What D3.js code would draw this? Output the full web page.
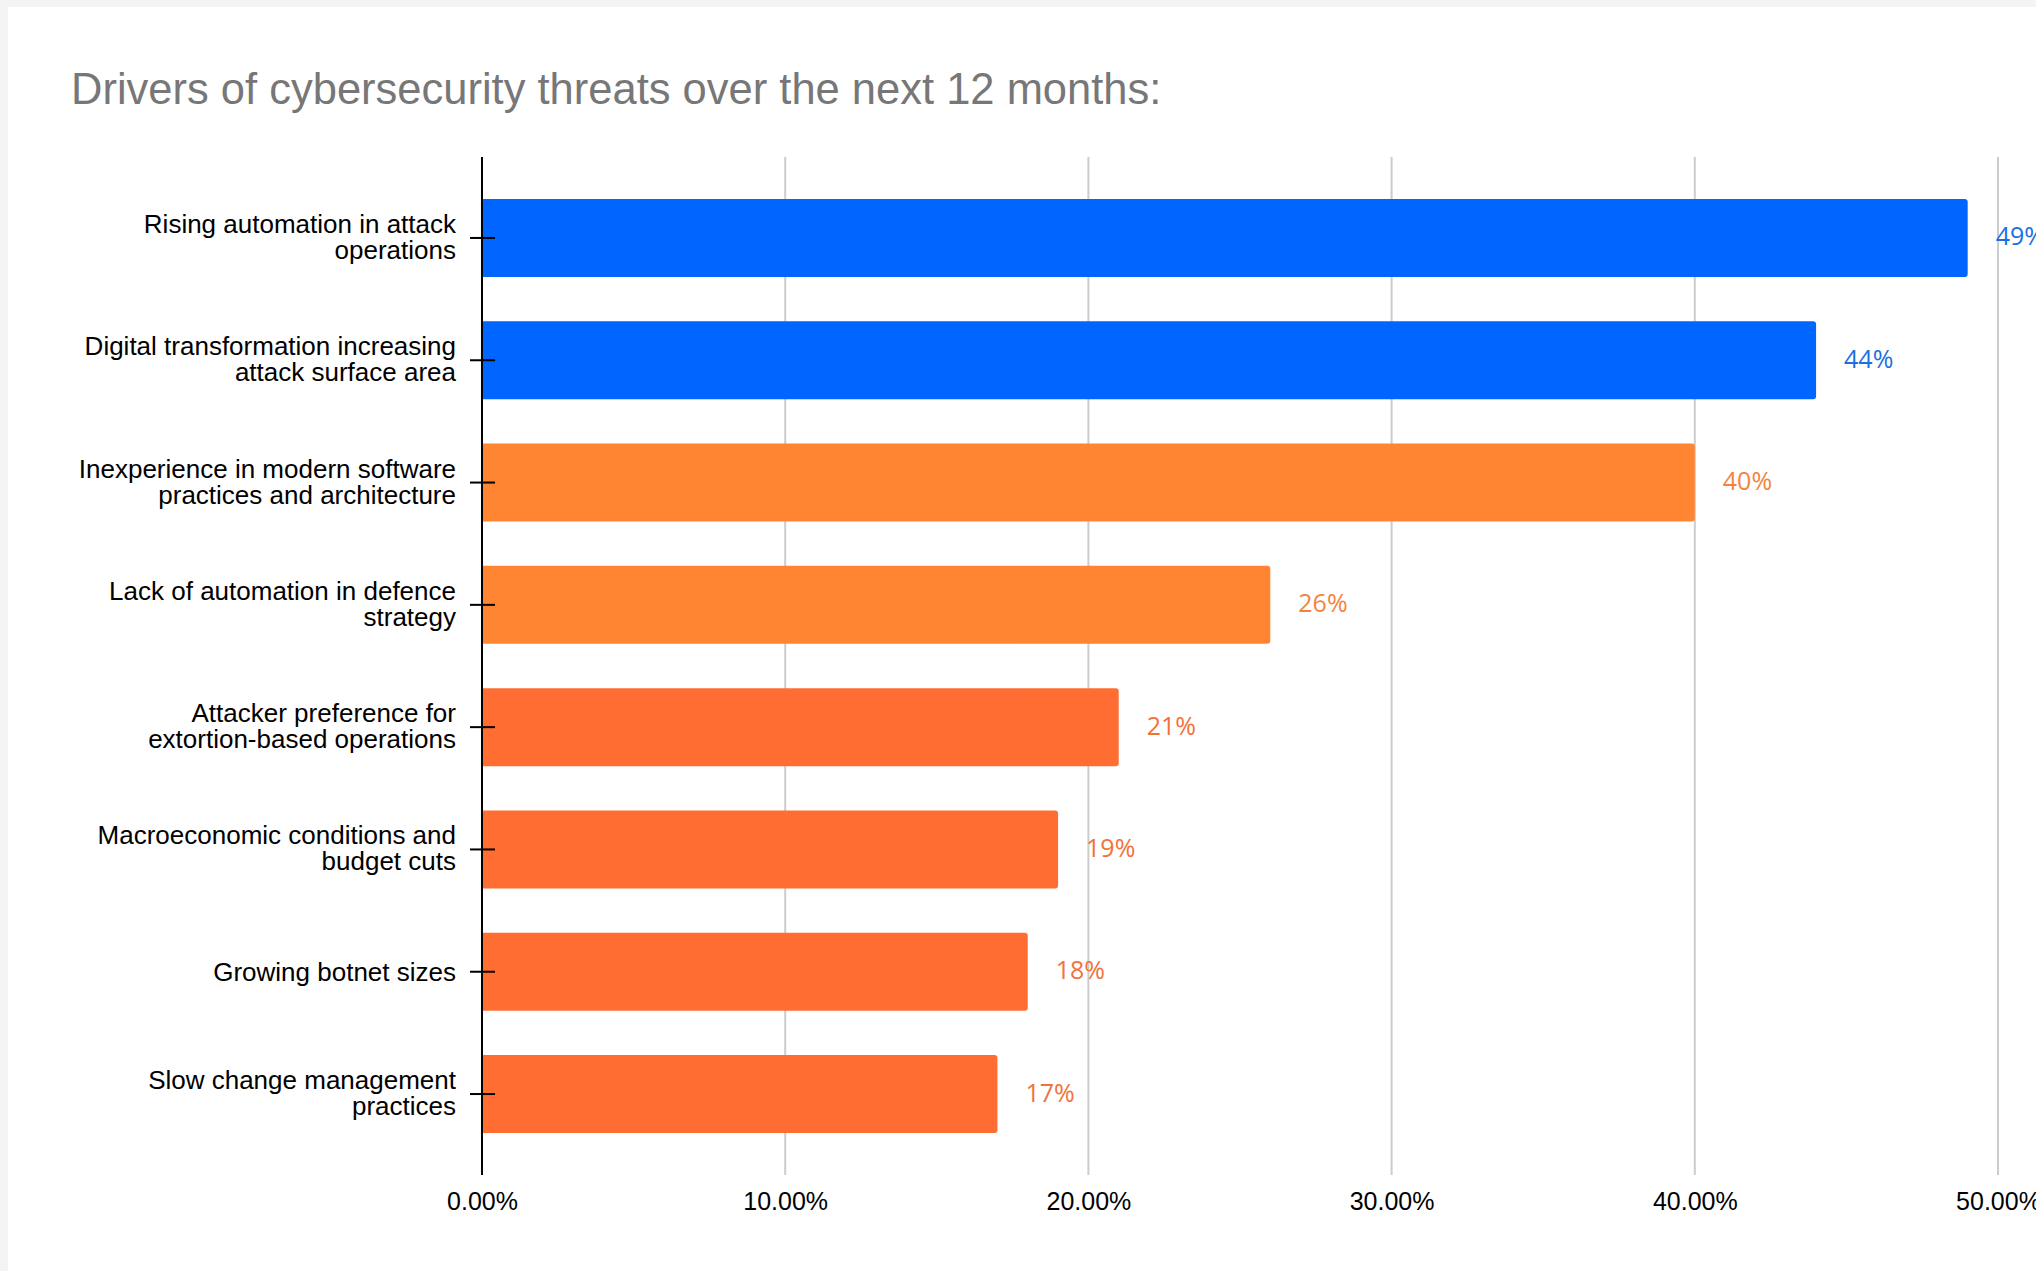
<!DOCTYPE html>
<html>
<head>
<meta charset="utf-8">
<script src="https://cdn.jsdelivr.net/npm/d3@7"></script>
<style>
  html, body { margin: 0; padding: 0; background: #f4f4f4; }
  svg { display: block; }
</style>
</head>
<body>
<svg id="chart" width="2036" height="1271"></svg>
<script>
const title = "Drivers of cybersecurity threats over the next 12 months:";
const categories = [
  "Rising automation in attack operations",
  "Digital transformation increasing attack surface area",
  "Inexperience in modern software practices and architecture",
  "Lack of automation in defence strategy",
  "Attacker preference for extortion-based operations",
  "Macroeconomic conditions and budget cuts",
  "Growing botnet sizes",
  "Slow change management practices"
];
const categoryLines = [
  ["Rising automation in attack", "operations"],
  ["Digital transformation increasing", "attack surface area"],
  ["Inexperience in modern software", "practices and architecture"],
  ["Lack of automation in defence", "strategy"],
  ["Attacker preference for", "extortion-based operations"],
  ["Macroeconomic conditions and", "budget cuts"],
  ["Growing botnet sizes"],
  ["Slow change management", "practices"]
];
const values = [0.49, 0.44, 0.40, 0.26, 0.21, 0.19, 0.18, 0.17];
const groups = ["top", "top", "high", "high", "other", "other", "other", "other"];
const xTicks = [0, 0.1, 0.2, 0.3, 0.4, 0.5];

const svg = d3.select("#chart");
// white panel
svg.append("rect").attr("x", 8).attr("y", 7).attr("width", 2036).attr("height", 1271).attr("fill", "#ffffff");

const plotTop = 157, plotBottom = 1175;
const x = d3.scaleLinear().domain([0, 0.5]).range([482, 1998]);
const y = d3.scaleBand().domain(categories).range([plotTop, plotBottom]).paddingInner(0.362).paddingOuter(0.343);
const barColor = d3.scaleOrdinal().domain(["top", "high", "other"]).range(["#0066ff", "#ff8533", "#ff6d33"]);
const labelColor = d3.scaleOrdinal().domain(["top", "high", "other"]).range(["#1a6fe3", "#f5833e", "#f2723a"]);

// title
svg.append("text").attr("x", 71).attr("y", 104)
  .attr("font-family", "Liberation Sans, Arial, sans-serif").attr("font-size", 43.5)
  .attr("fill", "#777777").text(title);

// gridlines
svg.append("g").selectAll("line").data(xTicks.slice(1)).join("line")
  .attr("x1", d => x(d)).attr("x2", d => x(d))
  .attr("y1", plotTop).attr("y2", plotBottom)
  .attr("stroke", "#cccccc").attr("stroke-width", 2);

// x axis tick labels via d3 axis
const xAxis = d3.axisBottom(x).tickValues(xTicks).tickFormat(d3.format(".2%")).tickSize(0).tickPadding(0);
const gx = svg.append("g").attr("transform", `translate(0, ${plotBottom})`).call(xAxis);
gx.select(".domain").remove();
gx.selectAll("text").attr("font-family", "Liberation Sans, Arial, sans-serif")
  .attr("font-size", 25).attr("fill", "#000").attr("dy", null).attr("y", 35);

// bars with rounded right corners
const r = 3;
const bh = y.bandwidth();
svg.append("g").selectAll("path").data(categories).join("path")
  .attr("d", (c, i) => {
    const x0 = x(0), x1 = x(values[i]), y0 = y(c), y1 = y0 + bh;
    return `M${x0},${y0}H${x1 - r}Q${x1},${y0} ${x1},${y0 + r}V${y1 - r}Q${x1},${y1} ${x1 - r},${y1}H${x0}Z`;
  })
  .attr("fill", (c, i) => barColor(groups[i]));

// value labels
svg.append("g").selectAll("text").data(categories).join("text")
  .attr("x", (c, i) => x(values[i]) + 28)
  .attr("y", c => y(c) + bh / 2 - 2.5)
  .attr("dominant-baseline", "central")
  .attr("font-family", "Open Sans, Noto Sans, sans-serif").attr("font-size", 25)
  .attr("fill", (c, i) => labelColor(groups[i]))
  .text((c, i) => d3.format(".0%")(values[i]));

// y axis line
svg.append("line").attr("x1", x(0)).attr("x2", x(0)).attr("y1", plotTop).attr("y2", plotBottom)
  .attr("stroke", "#000").attr("stroke-width", 2);

// y ticks
svg.append("g").selectAll("line").data(categories).join("line")
  .attr("x1", x(0) - 12).attr("x2", x(0) + 13)
  .attr("y1", c => y(c) + bh / 2).attr("y2", c => y(c) + bh / 2)
  .attr("stroke", "#000").attr("stroke-width", 2);

// y labels
const lab = svg.append("g").selectAll("text").data(categories).join("text")
  .attr("text-anchor", "end")
  .attr("font-family", "Liberation Sans, Arial, sans-serif").attr("font-size", 26)
  .attr("fill", "#000");
lab.each(function(c, i) {
  const lines = categoryLines[i];
  const cy = y(c) + bh / 2;
  const first = lines.length === 1 ? cy + 9 : cy - 5;
  d3.select(this).selectAll("tspan").data(lines).join("tspan")
    .attr("x", 456).attr("y", (l, j) => first + j * 26).text(l => l);
});
</script>
</body>
</html>
